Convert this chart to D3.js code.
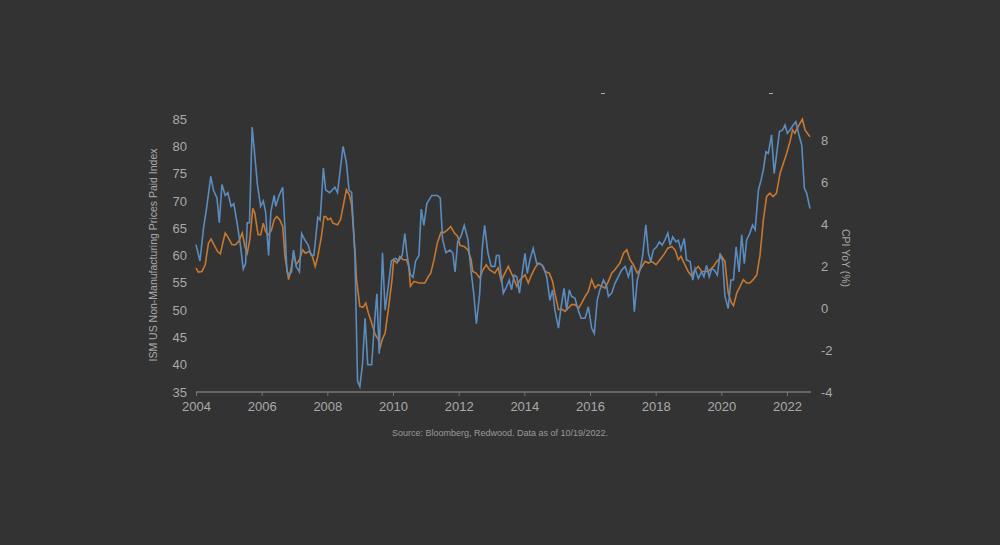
<!DOCTYPE html><html><head><meta charset="utf-8">
<script src="https://cdn.jsdelivr.net/npm/d3@7"></script>
<style>body{margin:0;background:#333333;}svg{display:block}</style></head><body>
<svg id="c" width="1000" height="545"></svg>
<script>
const xTicks=[2004,2006,2008,2010,2012,2014,2016,2018,2020,2022];
const leftTicks=[35,40,45,50,55,60,65,70,75,80,85];
const rightTicks=[-4,-2,0,2,4,6,8];
const ismYears=[2004.00,2004.12,2004.23,2004.33,2004.45,2004.53,2004.64,2004.71,2004.79,2004.89,2004.97,2005.07,2005.15,2005.25,2005.35,2005.44,2005.51,2005.56,2005.63,2005.71,2005.78,2005.87,2005.97,2006.05,2006.12,2006.21,2006.28,2006.38,2006.43,2006.53,2006.64,2006.71,2006.77,2006.84,2006.91,2006.97,2007.05,2007.15,2007.22,2007.30,2007.41,2007.51,2007.59,2007.71,2007.78,2007.88,2007.95,2008.07,2008.23,2008.31,2008.40,2008.48,2008.58,2008.66,2008.74,2008.84,2008.92,2008.99,2009.07,2009.15,2009.23,2009.35,2009.44,2009.51,2009.58,2009.68,2009.76,2009.87,2009.95,2010.07,2010.17,2010.28,2010.36,2010.43,2010.53,2010.61,2010.69,2010.79,2010.86,2010.94,2011.03,2011.18,2011.35,2011.44,2011.51,2011.61,2011.73,2011.82,2011.89,2011.97,2012.07,2012.17,2012.28,2012.38,2012.46,2012.54,2012.64,2012.72,2012.79,2012.89,2012.99,2013.10,2013.15,2013.23,2013.30,2013.36,2013.46,2013.54,2013.61,2013.69,2013.77,2013.85,2013.92,2014.02,2014.09,2014.17,2014.27,2014.38,2014.48,2014.58,2014.68,2014.78,2014.86,2014.93,2015.04,2015.12,2015.21,2015.29,2015.37,2015.44,2015.54,2015.64,2015.73,2015.85,2015.95,2016.05,2016.13,2016.22,2016.30,2016.41,2016.51,2016.56,2016.66,2016.76,2016.86,2016.96,2017.07,2017.17,2017.27,2017.35,2017.44,2017.52,2017.60,2017.70,2017.78,2017.85,2017.93,2018.03,2018.11,2018.20,2018.28,2018.37,2018.44,2018.52,2018.62,2018.69,2018.77,2018.87,2018.94,2019.05,2019.13,2019.20,2019.30,2019.40,2019.47,2019.55,2019.63,2019.71,2019.79,2019.88,2019.96,2020.04,2020.11,2020.21,2020.29,2020.37,2020.45,2020.54,2020.62,2020.70,2020.77,2020.87,2020.95,2021.03,2021.13,2021.21,2021.28,2021.36,2021.43,2021.53,2021.61,2021.68,2021.77,2021.87,2021.94,2022.01,2022.09,2022.19,2022.27,2022.35,2022.45,2022.53,2022.60,2022.70];
const ismValues=[62,59,65,69,74.5,72,70.5,66,73,71,71.5,69,69.5,66,62,57.5,58.5,66,66,83.5,79,73,69,70,68,60,68,71,69,71,72.5,65,57,56.5,57,61,58,57,64,63,62,60,60,67,66.5,76,72,71.5,72.5,71.5,76,80,77,72,71.5,60,37,36,40,48.5,40,40,48,53,42,60.5,50,55,59,59.5,59,60,64,60,56.5,56,59,60,68.5,65.5,69.5,71,71,70.5,63,60.5,61,60.5,57,62.5,63.5,65.5,63,57,53,47.5,53,61.5,65.5,60.5,58,58,60,60,56,53.1,54.3,55.5,53.7,56.4,56.1,53.1,56.1,60.4,56.7,59.2,61.3,58.5,58.5,58,56.1,51.8,53.7,50,46.7,50.6,54,50,53.7,52.5,52.2,50,48.5,48.5,50.6,46.7,45.7,51.8,53.7,55.5,54.3,52.5,53.1,54.9,56.1,57.3,58,56.1,58.2,49.7,55.5,57.3,59.8,65.6,60.4,58.9,61,61.6,62.5,61.9,62.8,64.1,61.9,63.4,62.5,62.8,61,63.1,59.2,58.9,55.5,57.6,55.8,57,56.1,58.2,56.1,57.6,57.3,56.4,60.4,58.9,52.5,50.3,55.5,55.5,61.6,57,63.8,58.5,62.8,64.1,65.6,64.7,72,73.8,75.7,79,78.7,82.1,75,78.4,82.7,83,83.9,82.4,83,83.9,84.5,82.4,80.2,72.3,71.4,68.6];
const cpiYears=[2004.00,2004.07,2004.18,2004.28,2004.38,2004.46,2004.55,2004.66,2004.74,2004.84,2004.89,2004.99,2005.10,2005.20,2005.30,2005.41,2005.49,2005.56,2005.64,2005.73,2005.79,2005.89,2005.97,2006.05,2006.12,2006.21,2006.30,2006.38,2006.46,2006.55,2006.64,2006.71,2006.82,2006.89,2006.97,2007.05,2007.15,2007.25,2007.33,2007.44,2007.53,2007.63,2007.71,2007.82,2007.90,2007.95,2008.02,2008.10,2008.17,2008.31,2008.40,2008.48,2008.58,2008.67,2008.74,2008.84,2008.89,2008.99,2009.09,2009.17,2009.25,2009.35,2009.46,2009.56,2009.59,2009.67,2009.76,2009.87,2009.97,2010.02,2010.12,2010.21,2010.31,2010.41,2010.48,2010.53,2010.64,2010.79,2010.97,2011.08,2011.15,2011.25,2011.35,2011.46,2011.56,2011.66,2011.76,2011.87,2011.97,2012.04,2012.17,2012.28,2012.38,2012.43,2012.53,2012.64,2012.74,2012.84,2012.94,2013.10,2013.20,2013.30,2013.36,2013.51,2013.67,2013.77,2013.87,2014.02,2014.12,2014.22,2014.32,2014.43,2014.53,2014.63,2014.76,2014.86,2014.93,2015.04,2015.14,2015.24,2015.34,2015.44,2015.54,2015.66,2015.75,2015.85,2015.95,2016.05,2016.15,2016.25,2016.36,2016.46,2016.56,2016.66,2016.76,2016.91,2017.02,2017.12,2017.22,2017.32,2017.44,2017.52,2017.68,2017.78,2017.88,2018.01,2018.13,2018.25,2018.37,2018.49,2018.59,2018.69,2018.77,2018.89,2018.99,2019.10,2019.20,2019.30,2019.40,2019.50,2019.60,2019.76,2019.86,2020.01,2020.11,2020.21,2020.31,2020.37,2020.47,2020.57,2020.67,2020.77,2020.87,2020.97,2021.08,2021.18,2021.28,2021.38,2021.48,2021.58,2021.68,2021.79,2021.89,2021.99,2022.09,2022.17,2022.24,2022.31,2022.40,2022.47,2022.55,2022.62,2022.70];
const cpiValues=[1.9,1.71,1.74,2.06,3.09,3.28,3.01,2.69,2.58,3.25,3.57,3.33,3.01,3.01,3.17,3.57,2.93,2.61,3.25,4.75,4.52,3.49,3.49,4.04,3.64,3.49,3.72,4.2,4.36,4.2,3.88,2.46,1.35,1.82,2.61,2.06,2.3,2.77,2.61,2.69,2.54,1.98,2.46,3.41,4.36,4.36,4.2,4.28,4.04,3.96,4.2,4.83,5.63,5.39,4.91,2.77,1.35,0.08,0.03,0.24,-0.24,-0.71,-1.27,-1.51,-1.98,-1.51,-1.19,0.08,1.35,2.3,2.14,2.46,2.3,2.3,1.98,1.03,1.27,1.19,1.19,1.51,1.66,2.3,3.09,3.6,3.6,3.72,3.88,3.57,3.41,2.98,2.93,2.77,2.3,1.74,1.66,1.43,1.82,2.06,1.82,1.66,1.9,1.27,1.51,1.98,1.43,1.03,1.35,1.58,1.19,1.58,1.9,2.14,2.06,1.74,1.66,1.27,0.71,-0.08,-0.05,-0.16,0,0.16,0.16,0,0.24,0.55,0.79,1.35,0.95,1.11,1.03,0.95,1.27,1.66,1.82,2.14,2.61,2.77,2.3,2.06,1.66,1.82,2.22,2.14,2.22,2.06,2.3,2.54,2.85,2.93,2.77,2.3,2.46,2.06,1.74,1.51,1.82,1.98,1.74,1.74,1.74,1.98,2.22,2.46,2.22,0.71,0.24,0.11,0.71,1.03,1.35,1.19,1.19,1.35,1.58,2.54,4.2,5.31,5.47,5.31,5.47,6.42,6.89,7.37,7.92,8.48,8.32,8.56,8.8,8.99,8.48,8.32,8.16];

const svg=d3.select("#c");
const txt="#a9a9a9";
const x=d3.scaleLinear().domain([2004,2022]).range([196,787]);
const yL=d3.scaleLinear().domain([35,85]).range([392,119]);
const yR=d3.scaleLinear().domain([-4,9]).range([392,119]);
const font="'Liberation Sans', Arial, sans-serif";

const gx=svg.append("g").attr("transform","translate(0,392)")
 .call(d3.axisBottom(x).tickValues(xTicks).tickFormat(d3.format("d")).tickSize(4).tickSizeOuter(0));
gx.select(".domain").remove();
gx.append("line").attr("x1",196).attr("x2",811).attr("stroke","#777").attr("stroke-width",1.5);
gx.selectAll(".tick line").attr("stroke","#777");
gx.selectAll(".tick text").attr("fill",txt).attr("font-size",13).attr("font-family",font).attr("dy","0.9em");

const gl=svg.append("g").attr("transform","translate(190,0)")
 .call(d3.axisLeft(yL).tickValues(leftTicks).tickSize(0));
gl.select(".domain").remove();
gl.selectAll("text").attr("fill",txt).attr("font-size",13).attr("font-family",font);

const gr=svg.append("g").attr("transform","translate(818,0)")
 .call(d3.axisRight(yR).tickValues(rightTicks).tickFormat(d=>String(d)).tickSize(0));
gr.select(".domain").remove();
gr.selectAll("text").attr("fill",txt).attr("font-size",13).attr("font-family",font);

svg.append("text").attr("transform","translate(157,255) rotate(-90)").attr("text-anchor","middle")
 .attr("fill",txt).attr("font-size",10.5).attr("font-family",font).text("ISM US Non-Manufacturing Prices Paid Index");
svg.append("text").attr("transform","translate(842,258) rotate(90)").attr("text-anchor","middle")
 .attr("fill",txt).attr("font-size",10.5).attr("font-family",font).text("CPI YoY (%)");
svg.append("text").attr("x",500).attr("y",436).attr("text-anchor","middle")
 .attr("fill","#999").attr("font-size",9).attr("font-family",font).text("Source: Bloomberg, Redwood. Data as of 10/19/2022.");
[603,771].forEach(px=>svg.append("line").attr("x1",px-2).attr("x2",px+2).attr("y1",93.5).attr("y2",93.5).attr("stroke","#aaa"));

const cpi=cpiYears.map((d,i)=>[d,cpiValues[i]]);
const ism=ismYears.map((d,i)=>[d,ismValues[i]]);
svg.append("path").datum(cpi).attr("fill","none").attr("stroke","#c8782e").attr("stroke-width",1.6)
 .attr("d",d3.line().x(d=>x(d[0])).y(d=>yR(d[1])));
svg.append("path").datum(ism).attr("fill","none").attr("stroke","#5a8cbf").attr("stroke-width",1.6)
 .attr("d",d3.line().x(d=>x(d[0])).y(d=>yL(d[1])));
</script></body></html>
